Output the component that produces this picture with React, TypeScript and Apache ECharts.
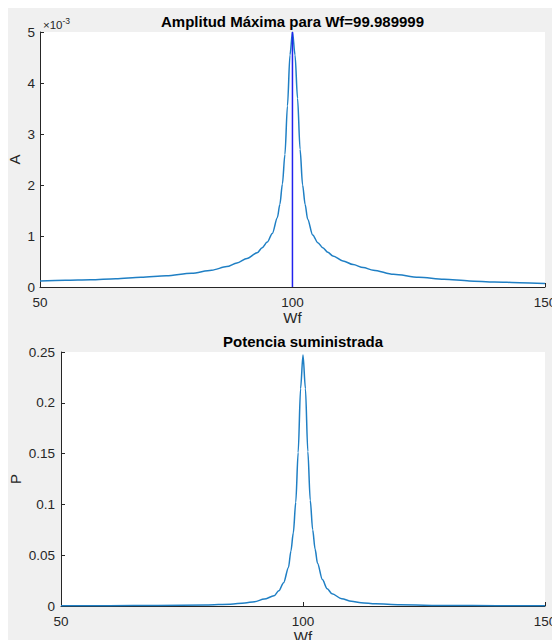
import React, { useEffect, useRef } from "react";
import * as echarts from "echarts";

// ---- data ----
const peakWf = 99.989999;
const peakAmpE3 = 5.0; // amplitude at the peak (x10^-3)

const ampWf = [50, 55, 60, 65, 70, 75, 80, 84, 87, 89, 91, 93, 94, 95, 96, 97, 97.5, 98, 98.5, 99, 99.5, 100, 100.5, 101, 101.5, 102, 102.5, 103, 104, 105, 106, 107, 108, 110, 112, 114, 116, 120, 125, 130, 135, 140, 145, 150];
const ampE3 = [0.12, 0.13, 0.14, 0.16, 0.19, 0.22, 0.27, 0.33, 0.40, 0.47, 0.56, 0.67, 0.77, 0.88, 1.05, 1.36, 1.62, 2.02, 2.6, 3.55, 4.55, 5.0, 4.55, 3.7, 2.7, 2.0, 1.62, 1.33, 1.02, 0.87, 0.77, 0.68, 0.61, 0.51, 0.44, 0.38, 0.33, 0.25, 0.19, 0.15, 0.12, 0.10, 0.085, 0.07];

const powWf = [50, 60, 70, 80, 85, 88, 90, 92, 94, 95, 96, 97, 97.5, 98, 98.5, 99, 99.5, 100, 100.5, 101, 101.5, 102, 102.5, 103, 104, 105, 106, 108, 110, 112, 115, 120, 130, 140, 150];
const powVal = [0.0002, 0.0003, 0.0005, 0.001, 0.0018, 0.003, 0.0042, 0.0068, 0.010, 0.015, 0.023, 0.038, 0.054, 0.072, 0.102, 0.151, 0.214, 0.247, 0.214, 0.152, 0.104, 0.075, 0.056, 0.042, 0.026, 0.017, 0.012, 0.0072, 0.0046, 0.0033, 0.0021, 0.0012, 0.0005, 0.0003, 0.0002];

const xTicks = { min: 50, max: 150, interval: 50 };
const ampTicks = { min: 0, max: 5, interval: 1 };
const powTicks = { min: 0, max: 0.25, interval: 0.05 };

const titleTop = "Amplitud Máxima para Wf=" + peakWf.toFixed(6);
const titleBottom = "Potencia suministrada";

const FONT = "'Liberation Sans', Arial, Helvetica, sans-serif";
const AXIS_COLOR = "#262626";
const LINE_COLOR = "#1f7fc4";

function axisCommon() {
  return {
    axisLine: { show: true, onZero: false, lineStyle: { color: AXIS_COLOR, width: 1 } },
    axisTick: { show: true, inside: true, length: 4, lineStyle: { color: AXIS_COLOR } },
    splitLine: { show: false },
    axisLabel: { color: AXIS_COLOR, fontSize: 13.5, fontFamily: FONT, showMinLabel: true, showMaxLabel: true },
    nameTextStyle: { color: AXIS_COLOR, fontSize: 15, fontFamily: FONT },
  };
}

export default function App() {
  const ref = useRef<HTMLDivElement>(null);
  useEffect(() => {
    if (!ref.current) return;
    const chart = echarts.init(ref.current, null, { renderer: "svg" });
    const c = axisCommon();
    chart.setOption({
      animation: false,
      backgroundColor: "#f0f0f0",
      textStyle: { fontFamily: FONT },
      title: [
        {
          text: titleTop,
          left: 292.5,
          top: 14,
          textAlign: "center",
          padding: 0,
          textStyle: { fontSize: 15, fontWeight: "bold", color: "#000", fontFamily: FONT },
        },
        {
          text: titleBottom,
          left: 303,
          top: 334,
          textAlign: "center",
          padding: 0,
          textStyle: { fontSize: 15, fontWeight: "bold", color: "#000", fontFamily: FONT },
        },
      ],
      grid: [
        { left: 40, top: 32, width: 505, height: 255, show: true, backgroundColor: "#fff", borderWidth: 0, outerBoundsMode: "none", containLabel: false },
        { left: 61, top: 352, width: 484, height: 254, show: true, backgroundColor: "#fff", borderWidth: 0, outerBoundsMode: "none", containLabel: false },
      ],
      xAxis: [
        {
          ...c,
          type: "value",
          gridIndex: 0,
          ...xTicks,
          name: "Wf",
          nameLocation: "middle",
          nameGap: 22,
          axisLabel: { ...c.axisLabel, margin: 8 },
        },
        {
          ...c,
          type: "value",
          gridIndex: 1,
          ...xTicks,
          name: "Wf",
          nameLocation: "middle",
          nameGap: 22,
          axisLabel: { ...c.axisLabel, margin: 8 },
        },
      ],
      yAxis: [
        {
          ...c,
          type: "value",
          gridIndex: 0,
          ...ampTicks,
          name: "A",
          nameLocation: "middle",
          nameGap: 18,
          nameMoveOverlap: false,
          axisLabel: { ...c.axisLabel, margin: 5 },
        },
        {
          ...c,
          type: "value",
          gridIndex: 1,
          ...powTicks,
          name: "P",
          nameLocation: "middle",
          nameGap: 38,
          nameMoveOverlap: false,
          axisLabel: { ...c.axisLabel, margin: 6 },
        },
      ],
      graphic: [
        // white window margins of the screenshot (top and left strips)
        { type: "rect", left: 0, top: 0, shape: { width: 552, height: 8 }, style: { fill: "#fff" }, silent: true },
        { type: "rect", left: 0, top: 0, shape: { width: 8, height: 640 }, style: { fill: "#fff" }, silent: true },
        {
          type: "text",
          left: 43,
          top: 16,
          style: {
            text: "{a|×10}{b|-3}",
            rich: {
              a: { fontSize: 11.5, fill: AXIS_COLOR, fontFamily: FONT, verticalAlign: "bottom" },
              b: { fontSize: 8.5, fill: AXIS_COLOR, fontFamily: FONT, verticalAlign: "top", padding: [0, 0, 6, 0] },
            },
          },
        },
      ],
      series: [
        {
          type: "line",
          xAxisIndex: 0,
          yAxisIndex: 0,
          data: ampWf.map((w, i) => [w, ampE3[i]]),
          showSymbol: false,
          smooth: 0.3,
          smoothMonotone: "x",
          lineStyle: { color: LINE_COLOR, width: 1.5 },
          z: 3,
        },
        {
          type: "line",
          xAxisIndex: 0,
          yAxisIndex: 0,
          data: [
            [peakWf, 0],
            [peakWf, peakAmpE3],
          ],
          showSymbol: false,
          lineStyle: { color: "#2222ee", width: 1.5 },
          z: 4,
        },
        {
          type: "line",
          xAxisIndex: 1,
          yAxisIndex: 1,
          data: powWf.map((w, i) => [w, powVal[i]]),
          showSymbol: false,
          smooth: 0.3,
          smoothMonotone: "x",
          lineStyle: { color: LINE_COLOR, width: 1.5 },
          z: 3,
        },
      ],
    });
    return () => chart.dispose();
  }, []);
  return (
    <div
      ref={ref}
      style={{ position: "fixed", left: 0, top: 0, width: 552, height: 640 }}
    />
  );
}
